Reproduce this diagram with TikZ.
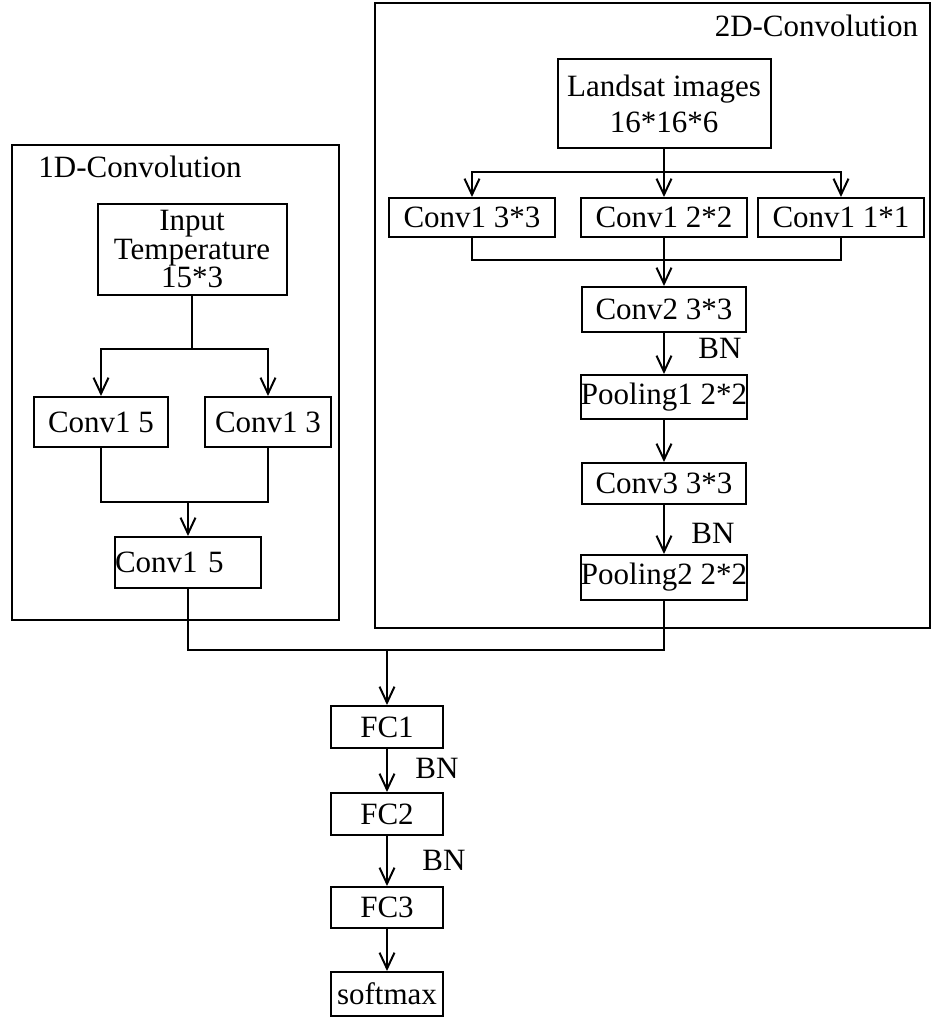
\documentclass[tikz,border=0pt]{standalone}
\usepackage{fontspec}
\setmainfont{Liberation Serif}
\usetikzlibrary{arrows.meta}
\begin{document}
\begin{tikzpicture}[x=1pt,y=-1pt,
  line width=2pt,
  every node/.style={font=\fontsize{31}{28}\selectfont},
  blk/.style={draw, line width=2pt, inner sep=0pt, minimum height=#1, anchor=center},
  frm/.style={draw, line width=2pt, inner sep=0pt},
  lbl/.style={inner sep=0pt},
  arr/.style={-{Straight Barb[length=16pt,width=15pt]}},
]
\useasboundingbox (0,0) rectangle (945,1019);
% frames
\node[frm, minimum width=327pt, minimum height=475pt] (frameL) at (175.5,382.5) {};
\node[frm, minimum width=555pt, minimum height=625pt] (frameR) at (652.5,315.5) {};
\node[lbl, anchor=base] (t1d) at (140,178) {1D-Convolution};
\node[lbl, anchor=base east] (t2d) at (919,37) {2D-Convolution};
% 1D branch
\node[blk=91pt, minimum width=189pt, align=center, font=\fontsize{31}{28.5}\selectfont] (inT) at (192,249.5) {Input\\Temperature\\15*3};
\node[blk=50pt, minimum width=134pt] (c5) at (101,422) {Conv1 5};
\node[blk=50pt, minimum width=126pt] (c3) at (268,422) {Conv1 3};
\node[blk=51pt, minimum width=146pt, text width=146pt, align=left] (c5b) at (188,562.5) {Conv1 5};
\coordinate (jL) at (192,349);
\coordinate (jL2) at (188,502);
\draw (inT.south) -- (jL);
\draw[arr] (jL) -| (c5.north);
\draw[arr] (jL) -| (c3.north);
\draw (c5.south) |- (jL2);
\draw (c3.south) |- (jL2);
\draw[arr] (jL2) -- (c5b.north);
% 2D branch
\node[blk=89pt, minimum width=213pt, align=center, font=\fontsize{31}{36}\selectfont] (land) at (664,103.5) {Landsat images\\16*16*6};
\node[blk=39pt, minimum width=166pt] (ca) at (472,217.5) {Conv1 3*3};
\node[blk=39pt, minimum width=166pt] (cb) at (664,217.5) {Conv1 2*2};
\node[blk=39pt, minimum width=166pt] (cc) at (841,217.5) {Conv1 1*1};
\node[blk=45pt, minimum width=164pt] (conv2) at (664,309.5) {Conv2 3*3};
\node[blk=44pt, minimum width=164pt] (pool1) at (664,397) {Pooling1 2*2};
\node[blk=41pt, minimum width=164pt] (conv3) at (664,483.5) {Conv3 3*3};
\node[blk=45pt, minimum width=164pt] (pool2) at (664,577.5) {Pooling2 2*2};
\node[lbl] (bn1) at (720,348) {BN};
\node[lbl] (bn2) at (713,533) {BN};
\coordinate (jR) at (664,172);
\coordinate (jR2) at (664,260);
\draw (land.south) -- (jR);
\draw[arr] (jR) -| (ca.north);
\draw[arr] (jR) -- (cb.north);
\draw[arr] (jR) -| (cc.north);
\draw (ca.south) |- (jR2);
\draw (cc.south) |- (jR2);
\draw (cb.south) -- (jR2);
\draw[arr] (jR2) -- (conv2.north);
\draw[arr] (conv2.south) -- (pool1.north);
\draw[arr] (pool1.south) -- (conv3.north);
\draw[arr] (conv3.south) -- (pool2.north);
% merge and FC
\node[blk=42pt, minimum width=112pt] (fc1) at (387,727) {FC1};
\node[blk=42pt, minimum width=112pt] (fc2) at (387,814) {FC2};
\node[blk=41pt, minimum width=112pt] (fc3) at (387,907.5) {FC3};
\node[blk=44pt, minimum width=112pt] (soft) at (387,994) {softmax};
\node[lbl] (bn3) at (437,768) {BN};
\node[lbl] (bn4) at (444,860) {BN};
\coordinate (jM) at (387,650);
\draw (c5b.south) |- (jM);
\draw (pool2.south) |- (jM);
\draw[arr] (jM) -- (fc1.north);
\draw[arr] (fc1.south) -- (fc2.north);
\draw[arr] (fc2.south) -- (fc3.north);
\draw[arr] (fc3.south) -- (soft.north);
\end{tikzpicture}
\end{document}
